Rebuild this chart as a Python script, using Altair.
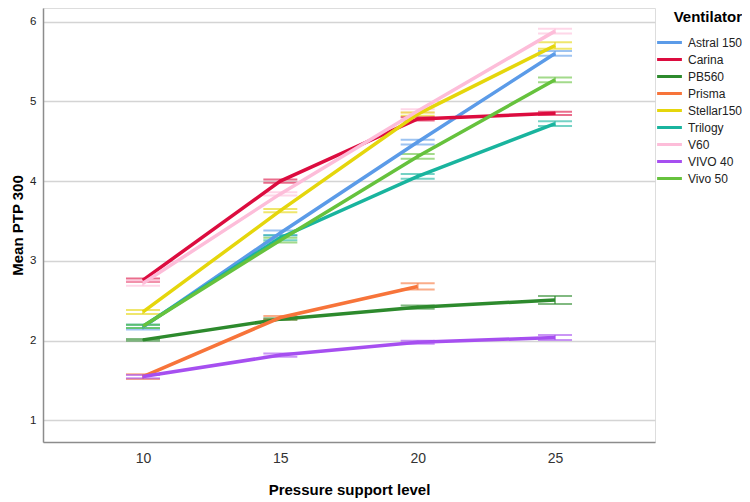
import altair as alt
import pandas as pd

levels = [10, 15, 20, 25]
ventilators = ["Astral 150", "Carina", "PB560", "Prisma", "Stellar150",
               "Trilogy", "V60", "VIVO 40", "Vivo 50"]
colors = ["#5b9be8", "#dc0c3f", "#2d8a2d", "#f7743a", "#e5d60c",
          "#19b49e", "#fdbdd9", "#a64ff0", "#66c23d"]

astral_mean = [2.17, 3.35, 4.49, 5.60]
carina_mean = [2.76, 4.00, 4.78, 4.85]
pb560_mean = [2.01, 2.27, 2.42, 2.51]
prisma_mean = [1.55, 2.29, 2.68]
stellar_mean = [2.36, 3.63, 4.84, 5.70]
trilogy_mean = [2.18, 3.29, 4.06, 4.72]
v60_mean = [2.72, 3.84, 4.88, 5.88]
vivo40_mean = [1.55, 1.82, 1.98, 2.04]
vivo50_mean = [2.18, 3.26, 4.31, 5.27]

astral_err = [0.03, 0.03, 0.03, 0.03]
carina_err = [0.02, 0.02, 0.02, 0.02]
pb560_err = [0.01, 0.01, 0.02, 0.05]
prisma_err = [0.03, 0.02, 0.04]
stellar_err = [0.025, 0.02, 0.02, 0.04]
trilogy_err = [0.02, 0.03, 0.03, 0.03]
v60_err = [0.03, 0.02, 0.02, 0.03]
vivo40_err = [0.02, 0.02, 0.02, 0.03]
vivo50_err = [0.02, 0.03, 0.03, 0.03]

series = [
    ("Astral 150", astral_mean, astral_err),
    ("Carina", carina_mean, carina_err),
    ("PB560", pb560_mean, pb560_err),
    ("Prisma", prisma_mean, prisma_err),
    ("Stellar150", stellar_mean, stellar_err),
    ("Trilogy", trilogy_mean, trilogy_err),
    ("V60", v60_mean, v60_err),
    ("VIVO 40", vivo40_mean, vivo40_err),
    ("Vivo 50", vivo50_mean, vivo50_err),
]

rows = []
for name, m, e in series:
    for lv, mv, ev in zip(levels, m, e):
        rows.append({"Ventilator": name, "level": lv, "mean": mv,
                     "lo": mv - ev, "hi": mv + ev})
df = pd.DataFrame(rows)

FONT = "Liberation Sans"
cscale = alt.Scale(domain=ventilators, range=colors)

color = alt.Color(
    "Ventilator:N",
    scale=cscale,
    legend=alt.Legend(
        title="Ventilator", orient="none", legendX=617, legendY=2,
        symbolType="M-1.55,0H1.55", symbolSize=256, symbolStrokeWidth=3,
        symbolOpacity=1, symbolFillColor="transparent", titleAnchor="end",
        titleFontSize=15, titleFontWeight="bold", titleColor="#000",
        titleFont=FONT, labelFont=FONT, labelFontSize=12,
        labelColor="#222", labelOffset=9, labelLimit=200,
        rowPadding=1, titlePadding=8,
    ),
)

xenc = alt.X(
    "level:Q",
    scale=alt.Scale(domain=[6.36, 28.64], nice=False, zero=False),
    axis=alt.Axis(
        values=levels, format="d", title="Pressure support level", grid=False,
        ticks=False, labelFontSize=14, labelColor="#333", labelFont=FONT,
        labelPadding=9, titleFont=FONT, titleFontSize=15,
        titleFontWeight="bold", titleColor="#000",
        titleX=306, titleY=47, titleAlign="center", titleBaseline="middle",
        domainColor="#8c8c8c", domainWidth=1.5,
    ),
)

yscale = alt.Scale(domain=[0.73, 6.17], nice=False, zero=False)

base = alt.Chart(df)

lines = base.mark_line(strokeWidth=3.5).encode(
    x=xenc,
    y=alt.Y(
        "mean:Q", scale=yscale,
        axis=alt.Axis(
            values=[1, 2, 3, 4, 5, 6], format="d", title="Mean PTP 300",
            grid=True, gridColor="#d4d4d4", gridWidth=1.5, ticks=False,
            labelFontSize=11.5, labelColor="#222", labelFont=FONT,
            labelPadding=7, titleFont=FONT, titleFontSize=15,
            titleFontWeight="bold", titleColor="#000",
            titleX=-26, titleY=217, titleAngle=270, titleAlign="center",
            titleBaseline="middle",
            domainColor="#8c8c8c", domainWidth=1.5,
        ),
    ),
    color=color,
    detail="Ventilator:N",
)

vbars = base.mark_rule(strokeWidth=2, opacity=0.6).encode(
    x="level:Q", y="lo:Q", y2="hi:Q", color=color,
)

caps_lo = base.mark_rule(strokeWidth=2, opacity=0.6, xOffset=-17, x2Offset=17).encode(
    x="level:Q", x2="level:Q", y="lo:Q", color=color,
)
caps_hi = base.mark_rule(strokeWidth=2, opacity=0.6, xOffset=-17, x2Offset=17).encode(
    x="level:Q", x2="level:Q", y="hi:Q", color=color,
)

chart = alt.layer(vbars, caps_lo, caps_hi, lines).properties(
    width=612, height=434,
    autosize=alt.AutoSizeParams(type="none"),
    padding={"left": 35, "top": 0, "right": 87, "bottom": 58},
).configure_view(stroke=None).configure(font=FONT)

chart.save("out.html", embed_options={"renderer": "svg", "actions": False})
